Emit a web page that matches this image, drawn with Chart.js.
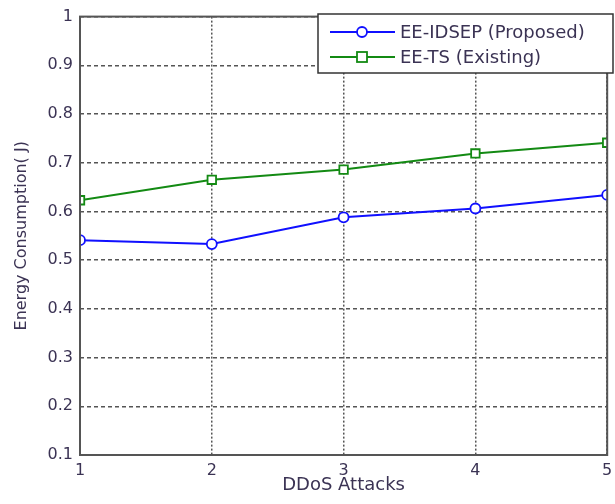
<!DOCTYPE html>
<html>
  <head>
    <meta charset="UTF-8">
    <style>
      html, body { margin: 0; padding: 0; background: #fff; }
      #wrap { width: 615px; height: 504px; }
    </style>
  </head>
  <body>
    <div id="wrap"><canvas id="energy"></canvas></div>

    <script src="https://cdn.jsdelivr.net/npm/chart.js@4.4.0/dist/chart.umd.min.js"></script>
    <script type="text/javascript">

      // DDoS attack counts on the x axis
      const attacks = [1, 2, 3, 4, 5];
      // energy consumption (J)
      const proposed = [0.541, 0.533, 0.588, 0.606, 0.634];
      const existing = [0.623, 0.665, 0.686, 0.719, 0.741];
      const seriesNames = ['EE-IDSEP (Proposed)', 'EE-TS (Existing)'];
      const yTicks = [0.1, 0.2, 0.3, 0.4, 0.5, 0.6, 0.7, 0.8, 0.9, 1];

      const TEXT = '#3b3354';
      const FONT = "'DejaVu Sans', 'Liberation Sans', Arial, sans-serif";

      // solid box round the plot area, matlab style
      const axesBox = {
        id: 'axesBox',
        afterDatasetsDraw(chart) {
          const a = chart.chartArea, ctx = chart.ctx;
          ctx.save();
          ctx.strokeStyle = '#555';
          ctx.lineWidth = 2;
          ctx.setLineDash([]);
          ctx.strokeRect(a.left, a.top, a.right - a.left, a.bottom - a.top);
          ctx.restore();
        }
      };

      // legend box in the top right corner, line + marker per entry
      const boxLegend = {
        id: 'boxLegend',
        afterDraw(chart) {
          const ctx = chart.ctx;
          const x0 = 318, y0 = 14, w = 295, h = 59;
          ctx.save();
          ctx.fillStyle = '#fff';
          ctx.fillRect(x0, y0, w, h);
          ctx.strokeStyle = '#333';
          ctx.lineWidth = 1.5;
          ctx.strokeRect(x0, y0, w, h);
          chart.data.datasets.forEach((ds, i) => {
            const y = 32 + i * 25;
            ctx.strokeStyle = ds.borderColor;
            ctx.lineWidth = 2;
            ctx.beginPath();
            ctx.moveTo(330, y);
            ctx.lineTo(395, y);
            ctx.stroke();
            ctx.fillStyle = '#fff';
            ctx.lineWidth = 1.8;
            if (ds.pointStyle === 'circle') {
              ctx.beginPath();
              ctx.arc(362, y, 5, 0, Math.PI * 2);
              ctx.fill();
              ctx.stroke();
            } else {
              ctx.fillRect(357, y - 5, 10, 10);
              ctx.strokeRect(357, y - 5, 10, 10);
            }
            ctx.fillStyle = TEXT;
            ctx.font = '18px ' + FONT;
            ctx.textBaseline = 'middle';
            ctx.fillText(ds.label, 400, y + 1);
          });
          ctx.restore();
        }
      };

      new Chart(document.getElementById('energy'), {
        type: 'line',
        data: {
          datasets: [
            {
              label: seriesNames[0],
              data: attacks.map((a, i) => ({ x: a, y: proposed[i] })),
              borderColor: '#1010ff',
              backgroundColor: '#fff',
              borderWidth: 2,
              pointStyle: 'circle',
              pointRadius: 5,
              pointBorderWidth: 1.8,
              tension: 0
            },
            {
              label: seriesNames[1],
              data: attacks.map((a, i) => ({ x: a, y: existing[i] })),
              borderColor: '#138a13',
              backgroundColor: '#fff',
              borderWidth: 2,
              pointStyle: 'rect',
              pointRadius: 6,
              pointBorderWidth: 1.8,
              tension: 0
            }
          ]
        },
        options: {
          responsive: true,
          maintainAspectRatio: false,
          animation: false,
          layout: { padding: { top: 15, right: 2, left: 0, bottom: 0 } },
          plugins: { legend: { display: false }, tooltip: { enabled: false } },
          scales: {
            x: {
              type: 'linear',
              min: 1,
              max: 5,
              afterBuildTicks: s => { s.ticks = attacks.map(v => ({ value: v })); },
              afterFit: s => { s.height = 49; s.paddingLeft = 0; s.paddingRight = 0; },
              grid: { color: '#555', lineWidth: 1.5, drawTicks: false },
              border: { display: false, dash: [2, 2] },
              ticks: { color: TEXT, font: { family: FONT, size: 16 }, padding: 6, maxRotation: 0 },
              title: { display: true, text: 'DDoS Attacks', color: TEXT, font: { family: FONT, size: 18 }, padding: { top: 0, bottom: 8 } }
            },
            y: {
              min: 0.1,
              max: 1,
              afterBuildTicks: s => { s.ticks = yTicks.map(v => ({ value: v })); },
              afterFit: s => { s.width = 80; },
              grid: { color: '#555', lineWidth: 1.5, drawTicks: false },
              border: { display: false, dash: [4, 3] },
              ticks: { color: TEXT, font: { family: FONT, size: 16 }, padding: 7, callback: v => String(Math.round(v * 10) / 10) },
              title: { display: true, text: 'Energy Consumption( J)', color: TEXT, font: { family: FONT, size: 16 }, padding: { top: 12, bottom: 0 } }
            }
          }
        },
        plugins: [axesBox, boxLegend]
      });

    </script>
  </body>
</html>
